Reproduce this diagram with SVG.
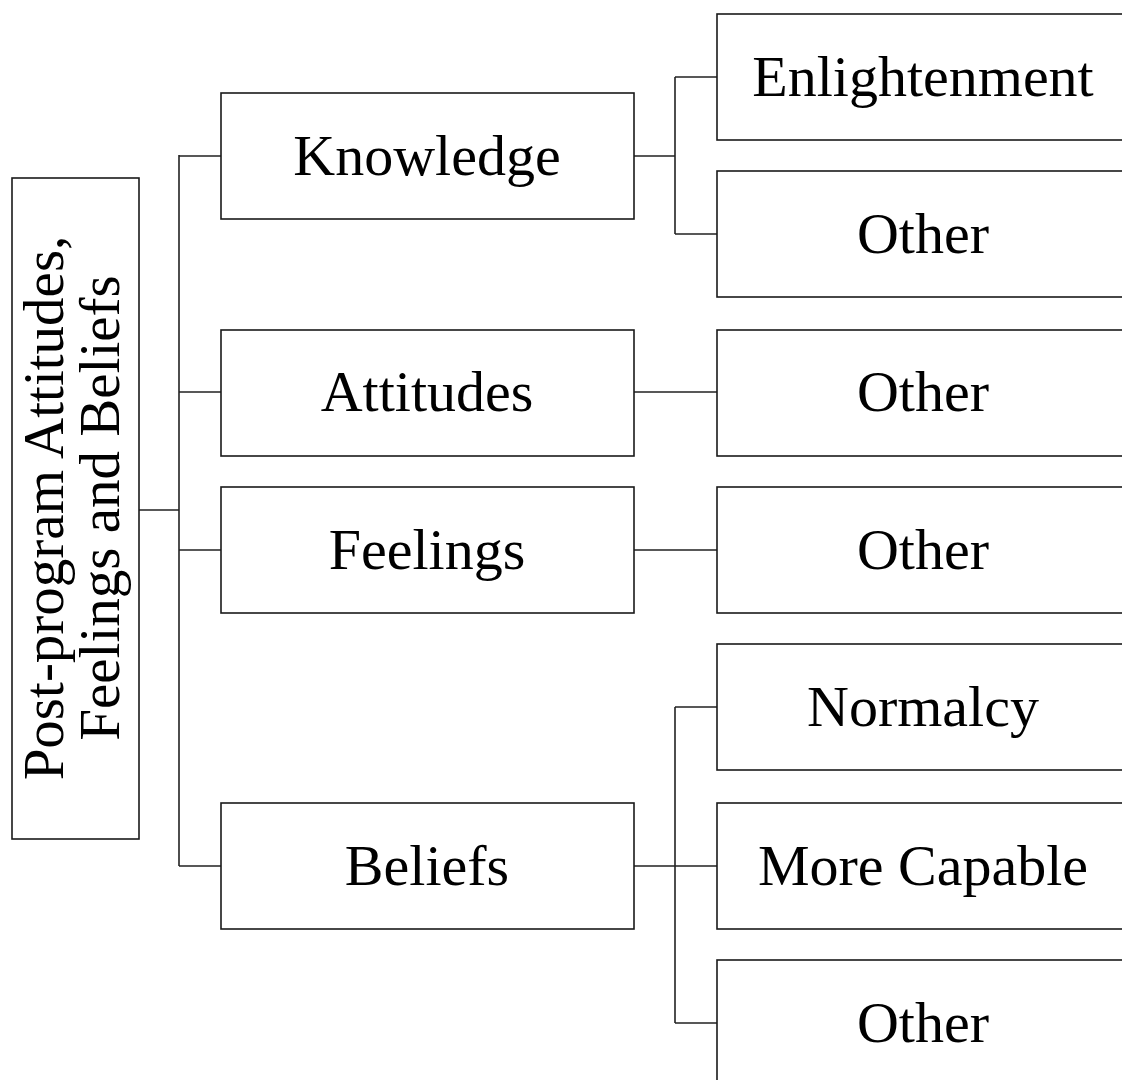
<svg xmlns="http://www.w3.org/2000/svg" width="1122" height="1080" viewBox="0 0 1122 1080">
<style>
.box{fill:#fff;stroke:#1a1a1a;stroke-width:1.6}
.t{font-family:"Liberation Serif","Times New Roman",serif;font-size:58px;fill:#000;text-anchor:middle}
.c{fill:none;stroke:#222;stroke-width:1.6}
</style>
<rect width="1122" height="1080" fill="#fff"/>
<g id="connectors">
<path class="c" d="M139,510 H179 M179,155 V866 M179,156 H221 M179,392 H221 M179,550 H221 M179,866 H221"/>
<path class="c" d="M634,156 H675 M675,77 V234 M675,77 H717 M675,234 H717"/>
<path class="c" d="M634,392 H717 M634,550 H717"/>
<path class="c" d="M634,866 H717 M675,707 V1023 M675,707 H717 M675,1023 H717"/>
</g>
<g id="root">
<rect class="box" x="12" y="178" width="127" height="661"/>
<g transform="translate(0,508) rotate(-90)">
<text class="t" x="0" y="63" style="font-size:57px">Post-program Attitudes,</text>
<text class="t" x="0" y="119" style="font-size:57px">Feelings and Beliefs</text>
</g>
</g>
<g id="knowledge"><rect class="box" x="221" y="93" width="413" height="126"/><text class="t" x="427" y="175">Knowledge</text></g>
<g id="attitudes"><rect class="box" x="221" y="330" width="413" height="126"/><text class="t" x="427" y="411">Attitudes</text></g>
<g id="feelings"><rect class="box" x="221" y="487" width="413" height="126"/><text class="t" x="427" y="569">Feelings</text></g>
<g id="beliefs"><rect class="box" x="221" y="803" width="413" height="126"/><text class="t" x="427" y="885">Beliefs</text></g>
<g id="enlightenment"><rect class="box" x="717" y="14" width="420" height="126"/><text class="t" x="923" y="96">Enlightenment</text></g>
<g id="knowledge-other"><rect class="box" x="717" y="171" width="420" height="126"/><text class="t" x="923" y="253">Other</text></g>
<g id="attitudes-other"><rect class="box" x="717" y="330" width="420" height="126"/><text class="t" x="923" y="411">Other</text></g>
<g id="feelings-other"><rect class="box" x="717" y="487" width="420" height="126"/><text class="t" x="923" y="569">Other</text></g>
<g id="normalcy"><rect class="box" x="717" y="644" width="420" height="126"/><text class="t" x="923" y="726">Normalcy</text></g>
<g id="more-capable"><rect class="box" x="717" y="803" width="420" height="126"/><text class="t" x="923" y="885">More Capable</text></g>
<g id="beliefs-other"><rect class="box" x="717" y="960" width="420" height="140"/><text class="t" x="923" y="1042">Other</text></g>
</svg>
